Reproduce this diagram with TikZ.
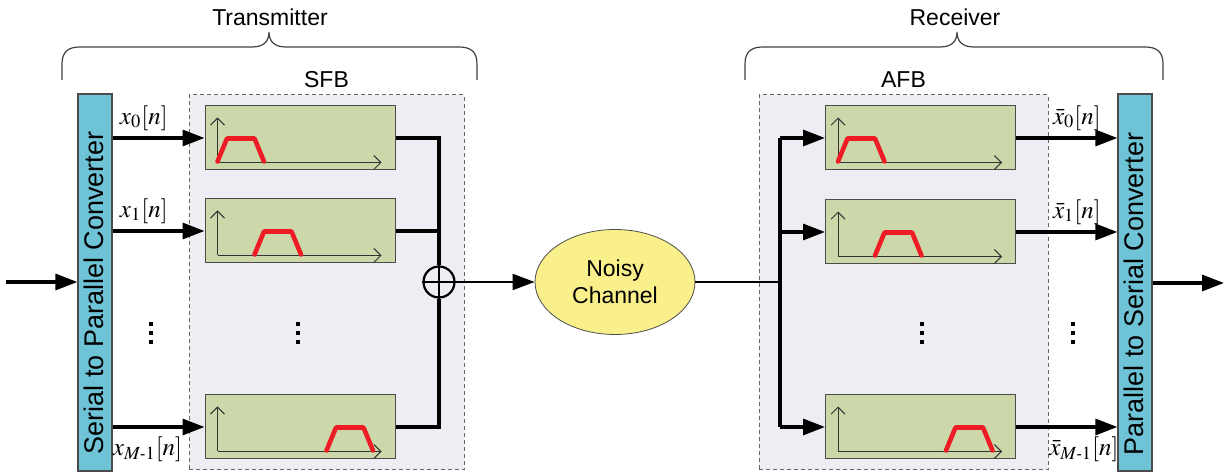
\documentclass[tikz,border=0pt]{standalone}
\usepackage{mathptmx}
\usepackage[no-math]{fontspec}
\setmainfont{Liberation Sans}
\usetikzlibrary{positioning,calc,shapes.geometric,arrows.meta}

\definecolor{convcyan}{HTML}{6EC4D6}
\definecolor{filtgreen}{HTML}{CCD8AA}
\definecolor{bankgray}{HTML}{EEEDF3}
\definecolor{chanyellow}{HTML}{F9F08C}
\definecolor{bandred}{HTML}{EE1C25}

\tikzset{
    conv/.style={draw=black!70, fill=convcyan, line width=0.6pt, minimum width=17pt, minimum height=188.5pt, inner sep=0pt},
    bank/.style={draw=black!60, fill=bankgray, dash pattern=on 2pt off 1.5pt, line width=0.5pt, minimum width=137.5pt, minimum height=187.5pt, inner sep=0pt},
    filt/.style={draw=black!70, fill=filtgreen, line width=0.5pt, minimum width=95pt, minimum height=32pt, inner sep=0pt},
    sig/.style={line width=1.6pt, -{Triangle[length=11pt,width=8pt]}},
    wire/.style={line width=1.6pt},
    axis/.style={black!80, line width=0.5pt, -{Straight Barb[length=3.5pt,width=7pt]}},
    band/.style={bandred, line width=2.3pt, line cap=round, line join=round},
    lbl/.style={font=\fontsize{12.5}{14}\selectfont, inner sep=1pt},
    title/.style={font=\fontsize{11.5}{13}\selectfont},
    vdot/.pic={\foreach \d in {-9,0,9} \fill (-2,\d-2) rectangle (2,\d+2);}
}

% short dash for the M-1 index
\newcommand{\mone}{M\hbox{\fontsize{8}{8}\selectfont -}1}

% axes and passband inside a filter box: #1 node, #2 offset of the band
\newcommand{\response}[2]{%
    \coordinate (#1o) at ($(#1.south west)+(13,-8)$);
    \draw[axis] (#1o) -- ++(0,-45);
    \draw[axis] (#1o) -- ($(#1.south east)+(-14,-8)$);
    \draw[band] ($(#1o)+(#2,-1)$) -- ++(9.5,-23) -- ++(27.5,0) -- ++(9.5,23);
}

% curly brace over a block: #1 left x, #2 tip x, #3 right x
\newcommand{\topbrace}[3]{%
    \draw[black!75, line width=0.6pt] (#1,80) -- (#1,64) .. controls (#1,52) and ($(#1,47)+(6,0)$) .. ($(#1,47)+(18,0)$)
        -- ($(#2,47)+(-17,0)$) .. controls ($(#2,47)+(-6,0)$) and (#2,42) .. (#2,32)
        .. controls (#2,42) and ($(#2,47)+(6,0)$) .. ($(#2,47)+(17,0)$)
        -- ($(#3,47)+(-18,0)$) .. controls ($(#3,47)+(-6,0)$) and (#3,52) .. (#3,64) -- (#3,80);
}

\begin{document}
\begin{tikzpicture}[x=0.5pt, y=-0.5pt]
    \useasboundingbox (0,0) rectangle (1231,474);

    % transmitter
    \node[title] (txname) at (270,17) {Transmitter};
    \topbrace{62}{269}{477}
    \node[conv] (sp) at (95,282.5) {};
    \node[rotate=90, font=\fontsize{13.5}{15}\selectfont] (sptext) at (94,293) {Serial to Parallel Converter};
    \node[bank] (sfb) at (326.5,282.5) {};
    \node[title, above=0pt of sfb] (sfbname) {SFB};

    \node[filt] (tx0) at (300,138) {};
    \node[filt] (tx1) at (300,231) {};
    \node[filt] (tx2) at (300,427) {};
    \response{tx0}{0}
    \response{tx1}{37}
    \response{tx2}{109}

    \coordinate (in) at (6,282);
    \draw[sig] (in) -- (in -| sp.west);
    \draw[sig] (sp.east |- tx0) -- node[lbl, above=2pt, pos=0.34] (x0) {$x_0[n]$} (tx0.west);
    \draw[sig] (sp.east |- tx1) -- node[lbl, above=2pt, pos=0.34] (x1) {$x_1[n]$} (tx1.west);
    \draw[sig] (sp.east |- tx2) -- node[lbl, below=3pt, pos=0.38] (x2) {$x_{\mone}[n]$} (tx2.west);
    \pic at (151,333) {vdot};
    \pic at (298,333) {vdot};

    % adder and channel
    \node[circle, draw, line width=1.1pt, minimum size=15.5pt, inner sep=0pt] (sum) at (439,282) {};
    \draw[line width=1pt] (sum.north) -- (sum.south) (sum.west) -- (sum.east);
    \draw[wire] (tx0.east) -| (sum.north);
    \draw[wire] (tx1.east) -- (tx1.east -| sum);
    \draw[wire] (tx2.east) -| (sum.south);
    \node[ellipse, draw=black!70, fill=chanyellow, minimum width=80pt, minimum height=52.5pt, align=center,
          font=\fontsize{11.5}{13.5}\selectfont] (chan) at (615,282) {Noisy\\Channel};
    \draw[line width=1.1pt, -{Triangle[length=11pt,width=8pt]}] (sum.east) -- (chan.west);

    % receiver
    \node[title] (rxname) at (955,17) {Receiver};
    \topbrace{745}{957}{1163}
    \node[bank, minimum width=144.5pt] (afb) at (903.5,282.5) {};
    \node[title, above=0pt of afb] (afbname) {AFB};
    \node[conv] (ps) at (1135,282.5) {};
    \node[rotate=90, font=\fontsize{13.5}{15}\selectfont] (pstext) at (1134,294) {Parallel to Serial Converter};

    \node[filt] (rx0) at (920.5,138) {};
    \node[filt] (rx1) at (920.5,232) {};
    \node[filt] (rx2) at (920.5,427) {};
    \response{rx0}{0}
    \response{rx1}{37}
    \response{rx2}{108}

    \coordinate (split) at (780,282);
    \draw[line width=1.1pt] (chan.east) -- (split);
    \draw[wire] (split |- rx0) -- (split |- rx2);
    \draw[sig] (split |- rx0) -- (rx0.west);
    \draw[sig] (split |- rx1) -- (rx1.west);
    \draw[sig] (split |- rx2) -- (rx2.west);
    \draw[sig] (rx0.east) -- node[lbl, above=2pt, pos=0.6] (y0) {$\bar{x}_0[n]$} (rx0.east -| ps.west);
    \draw[sig] (rx1.east) -- node[lbl, above=2pt, pos=0.6] (y1) {$\bar{x}_1[n]$} (rx1.east -| ps.west);
    \draw[sig] (rx2.east) -- node[lbl, below=3pt, pos=0.67] (y2) {$\bar{x}_{\mone}[n]$} (rx2.east -| ps.west);
    \pic at (922,333) {vdot};
    \pic at (1073,333) {vdot};

    \coordinate (out) at (1224,283);
    \draw[sig] (ps.east |- out) -- (out);
\end{tikzpicture}
\end{document}
